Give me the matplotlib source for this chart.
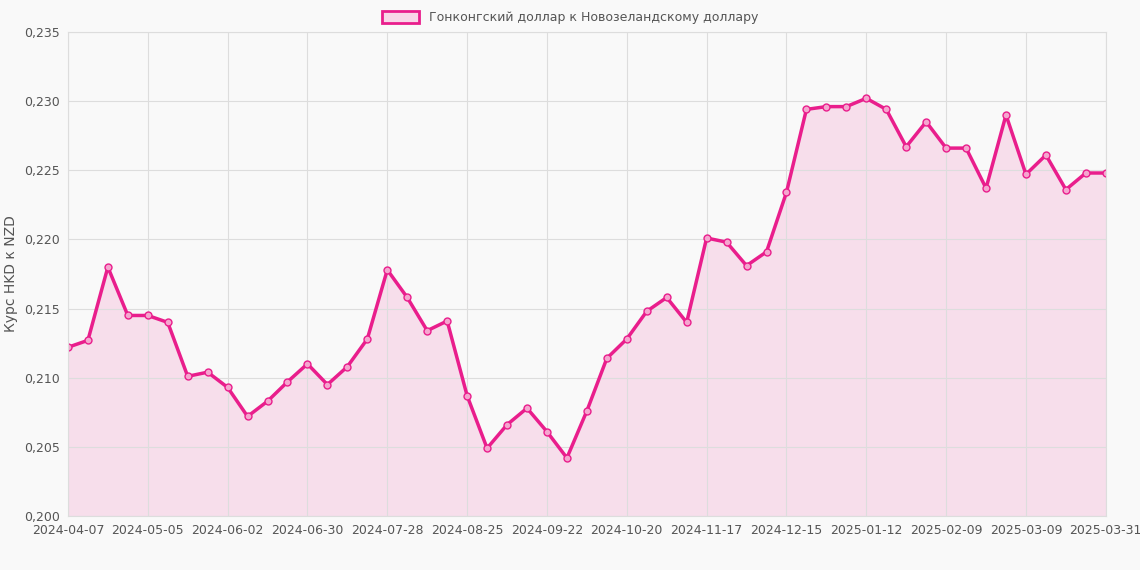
import matplotlib
matplotlib.use("Agg")
import matplotlib.pyplot as plt
import matplotlib.patches as mpatches
import numpy as np
import pandas as pd

# weekly rates, HKD -> NZD
dates = list(pd.date_range("2024-04-07", periods=52, freq="7D").strftime("%Y-%m-%d")) + ["2025-03-31"]
rates = [0.2122, 0.2127, 0.2180, 0.2145, 0.2145, 0.2140, 0.2101, 0.2104, 0.2093, 0.2072,
         0.2083, 0.2097, 0.2110, 0.2095, 0.2108, 0.2128, 0.2178, 0.2158, 0.2134, 0.2141,
         0.2087, 0.2049, 0.2066, 0.2078, 0.2061, 0.2042, 0.2076, 0.2114, 0.2128, 0.2148,
         0.2158, 0.2140, 0.2201, 0.2198, 0.2181, 0.2191, 0.2234, 0.2294, 0.2296, 0.2296,
         0.2302, 0.2294, 0.2267, 0.2285, 0.2266, 0.2266, 0.2237, 0.2290, 0.2247, 0.2261,
         0.2236, 0.2248, 0.2248]
yticks = [0.200, 0.205, 0.210, 0.215, 0.220, 0.225, 0.230, 0.235]

color = "#e91e8c"
bg = "#f9f9f9"

fig = plt.figure(figsize=(11.4, 5.7), dpi=100, facecolor=bg)
ax = fig.add_axes([0.0596, 0.0947, 0.9104, 0.8493], facecolor=bg)

x = np.arange(len(rates))
ax.fill_between(x, rates, 0.2, color=color, alpha=0.12, linewidth=0)
ax.plot(x, rates, color=color, linewidth=2.5, marker="o", markersize=5,
        markerfacecolor="#f5a6cf", markeredgecolor=color, markeredgewidth=1)

ax.set_xlim(0, len(rates) - 1)
ax.set_ylim(0.200, 0.235)
ax.set_yticks(yticks)
ax.set_yticklabels([f"{v:.3f}".replace(".", ",") for v in yticks])
tick_idx = list(range(0, len(rates) - 1, 4)) + [len(rates) - 1]
ax.set_xticks(tick_idx)
ax.set_xticklabels([dates[i] for i in tick_idx])
ax.tick_params(colors="#555555", labelsize=9, length=0, pad=6)
ax.grid(True, color="#dddddd", linewidth=0.8)
for s in ax.spines.values():
    s.set_color("#dddddd")
ax.set_ylabel("Курс HKD к NZD", color="#555555", fontsize=10)

handle = mpatches.Patch(facecolor="#f8d7e8", edgecolor=color, linewidth=2)
fig.legend([handle], ["Гонконгский доллар к Новозеландскому доллару"], loc="upper center",
           bbox_to_anchor=(0.5, 1.0), frameon=False, fontsize=9, labelcolor="#555555",
           handlelength=3, handleheight=1)

fig.savefig("out.png", dpi=100, facecolor=bg)
